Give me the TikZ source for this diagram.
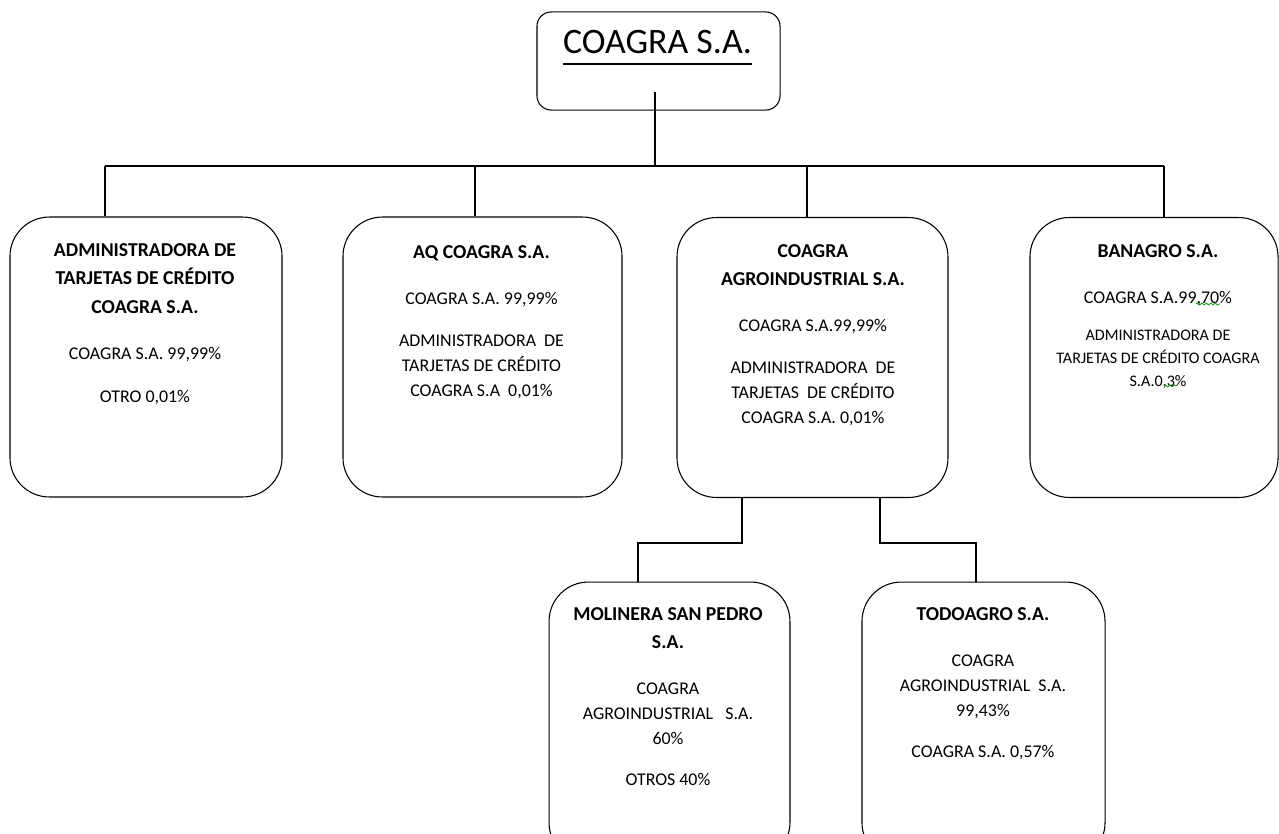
\documentclass[tikz,border=0pt]{standalone}
\usepackage{fontspec}
\setmainfont{Carlito}
\usetikzlibrary{positioning,decorations.pathmorphing}

\newcommand{\negrita}[1]{{\fontsize{11}{14}\selectfont\bfseries #1}}
\newcommand{\chica}[1]{{\fontsize{9}{12}\selectfont #1}}

\begin{document}
\begin{tikzpicture}[x=0.5587pt, y=-0.5587pt,
    empresa/.style={draw, line width=0.6pt, rounded corners=22pt, minimum height=156.4pt},
    texto/.style={align=center, inner sep=0pt, anchor=north, font=\fontsize{10}{14}\selectfont},
    linea/.style={line width=0.7pt}]
    \useasboundingbox (0,0) rectangle (1279,833);
    \clip (0,0) rectangle (1279,833);

    % cabecera
    \node[draw, line width=0.6pt, rounded corners=8pt, minimum width=135.8pt, minimum height=54.8pt] (coagra) at (658.5,61) {};
    \node[font=\fontsize{20}{24}\selectfont, inner sep=0pt, anchor=base] (titulo) at (657.5,53) {COAGRA S.A.};
    \draw[line width=1.1pt] ([yshift=-6pt]titulo.base west) -- ([yshift=-6pt]titulo.base east);

    % empresas del primer nivel
    \node[empresa, minimum width=152pt] (adm) at (146,357) {};
    \node[texto] (adm-txt) at (145,243) {\negrita{ADMINISTRADORA DE}\\[1.9pt]\negrita{TARJETAS DE CRÉDITO}\\[1.9pt]\negrita{COAGRA S.A.}\\[11.7pt]COAGRA S.A. 99,99\%\\[10pt]OTRO 0,01\%};

    \node[empresa, minimum width=155.9pt] (aq) at (482.5,357) {};
    \node[texto] (aq-txt) at (481.5,245) {\negrita{AQ COAGRA S.A.}\\[11.7pt]COAGRA S.A. 99,99\%\\[9.5pt]ADMINISTRADORA\ \ DE\\TARJETAS DE CRÉDITO\\COAGRA S.A\ \ 0,01\%};

    \node[empresa, minimum width=151.4pt] (agro) at (812.5,357.5) {};
    \node[texto] (agro-txt) at (813,244) {\negrita{COAGRA}\\[1.9pt]\negrita{AGROINDUSTRIAL S.A.}\\[11.7pt]COAGRA S.A.99,99\%\\[9.5pt]ADMINISTRADORA\ \ DE\\TARJETAS\ \ DE CRÉDITO\\COAGRA S.A. 0,01\%};

    \node[empresa, minimum width=138.6pt] (banagro) at (1154,357.5) {};
    \node[texto] (banagro-txt) at (1158,244) {\negrita{BANAGRO S.A.}\\[11.7pt]COAGRA S.A.99,70\%\\[7pt]\chica{ADMINISTRADORA DE}\\[-1.2pt]\chica{TARJETAS DE CRÉDITO COAGRA}\\[-1.2pt]\chica{S.A.0,3\%}};

    % empresas del segundo nivel
    \node[empresa, minimum width=134.6pt] (molinera) at (669.5,722) {};
    \node[texto] (molinera-txt) at (668,607) {\negrita{MOLINERA SAN PEDRO}\\[1.9pt]\negrita{S.A.}\\[11.7pt]COAGRA\\AGROINDUSTRIAL\ \ \ S.A.\\60\%\\[8.5pt]OTROS 40\%};

    \node[empresa, minimum width=135.8pt] (todoagro) at (983.5,722) {};
    \node[texto] (todoagro-txt) at (983,607) {\negrita{TODOAGRO S.A.}\\[11.7pt]COAGRA\\AGROINDUSTRIAL\ \ S.A.\\99,43\%\\[9pt]COAGRA S.A. 0,57\%};

    % conectores
    \coordinate (c0) at (655,92);
    \coordinate (bus) at (655,166);
    \coordinate (b1) at (105,166);
    \coordinate (b2) at (475,166);
    \coordinate (b3) at (807,166);
    \coordinate (b4) at (1164,166);
    \draw[linea] (c0) -- (bus);
    \draw[linea] (b1) -- (b4);
    \draw[linea] (b1) -- (b1 |- adm.north);
    \draw[linea] (b2) -- (b2 |- aq.north);
    \draw[linea] (b3) -- (b3 |- agro.north);
    \draw[linea] (b4) -- (b4 |- banagro.north);

    \coordinate (m1) at (742,543);
    \coordinate (m2) at (638,543);
    \coordinate (t1) at (880,543);
    \coordinate (t2) at (976,543);
    \draw[linea] (m1 |- agro.south) -- (m1) -- (m2) -- (m2 |- molinera.north);
    \draw[linea] (t1 |- agro.south) -- (t1) -- (t2) -- (t2 |- todoagro.north);

    % marcas del corrector
    \draw[green!60!black, line width=0.4pt, decorate, decoration={snake, amplitude=0.6pt, segment length=2.5pt}] (1196,304) -- (1220,304);
    \draw[green!60!black, line width=0.4pt, decorate, decoration={snake, amplitude=0.6pt, segment length=2.5pt}] (1164,386) -- (1176,386);
\end{tikzpicture}
\end{document}
